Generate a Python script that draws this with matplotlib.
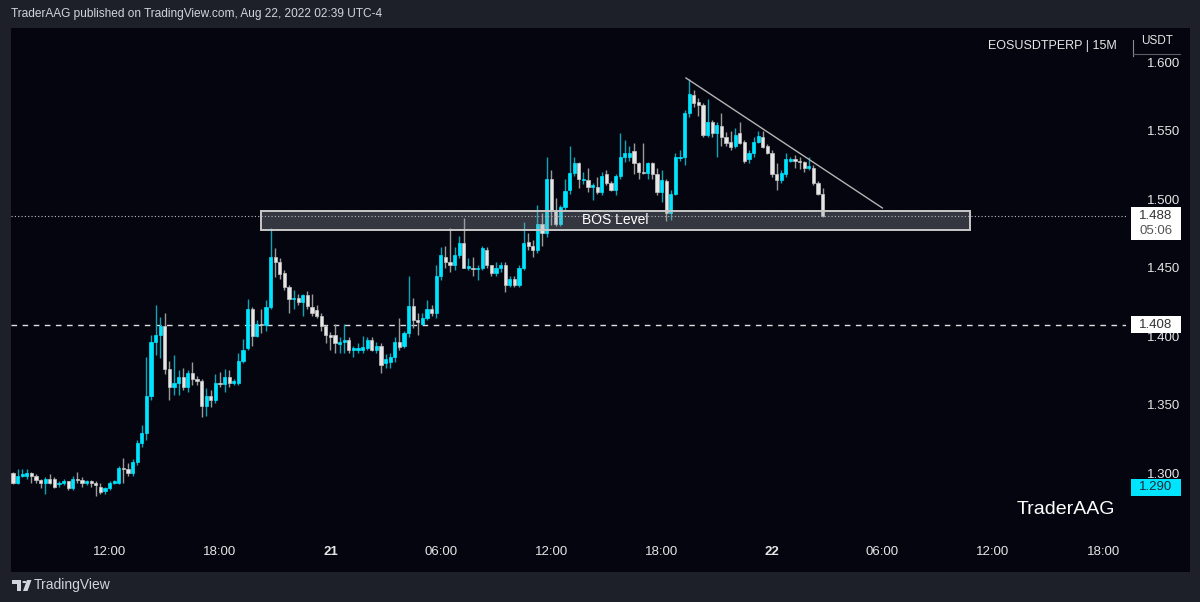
import matplotlib

matplotlib.use("Agg")

import matplotlib.pyplot as plt
from matplotlib.patches import Rectangle, Circle, Polygon

plt.rcParams["font.family"] = ["Liberation Sans", "DejaVu Sans"]

# EOSUSDTPERP 15m candles, Aug 20 06:45 -> Aug 22 02:30
opens = [
    1.300, 1.293, 1.298, 1.298, 1.300, 1.298, 1.295, 1.293, 1.296, 1.296,
    1.292, 1.293, 1.294, 1.289, 1.296, 1.295, 1.293, 1.294, 1.293, 1.290,
    1.287, 1.289, 1.293, 1.293, 1.304, 1.303, 1.300, 1.308, 1.322, 1.329,
    1.356, 1.396, 1.401, 1.407, 1.376, 1.363, 1.366, 1.370, 1.363, 1.373,
    1.369, 1.367, 1.349, 1.356, 1.353, 1.366, 1.365, 1.370, 1.366, 1.366,
    1.382, 1.391, 1.420, 1.400, 1.409, 1.408, 1.421, 1.458, 1.454, 1.446,
    1.436, 1.427, 1.428, 1.425, 1.430, 1.421, 1.419, 1.415, 1.407, 1.401,
    1.401, 1.394, 1.396, 1.397, 1.390, 1.390, 1.390, 1.391, 1.397, 1.390,
    1.393, 1.380, 1.381, 1.385, 1.396, 1.393, 1.402, 1.422, 1.412, 1.409,
    1.413, 1.420, 1.417, 1.444, 1.458, 1.454, 1.452, 1.459, 1.468, 1.450,
    1.450, 1.449, 1.450, 1.463, 1.452, 1.446, 1.450, 1.452, 1.437, 1.442,
    1.437, 1.450, 1.469, 1.466, 1.463, 1.482, 1.475, 1.515, 1.492, 1.482,
    1.494, 1.507, 1.519, 1.526, 1.514, 1.514, 1.509, 1.509, 1.505, 1.518,
    1.512, 1.507, 1.517, 1.531, 1.531, 1.535, 1.526, 1.520, 1.519, 1.526,
    1.518, 1.505, 1.513, 1.490, 1.504, 1.530, 1.531, 1.563, 1.576, 1.571,
    1.569, 1.547, 1.556, 1.548, 1.553, 1.545, 1.542, 1.539, 1.548, 1.542,
    1.529, 1.534, 1.542, 1.545, 1.539, 1.534, 1.518, 1.514, 1.518, 1.528,
    1.529, 1.528, 1.527, 1.523, 1.523, 1.512, 1.504,
]
closes = [
    1.293, 1.298, 1.299, 1.300, 1.298, 1.295, 1.293, 1.296, 1.293, 1.290,
    1.293, 1.294, 1.289, 1.296, 1.295, 1.293, 1.294, 1.293, 1.291, 1.286,
    1.289, 1.293, 1.294, 1.304, 1.303, 1.300, 1.308, 1.322, 1.329, 1.356,
    1.396, 1.401, 1.407, 1.376, 1.363, 1.366, 1.370, 1.363, 1.373, 1.369,
    1.367, 1.349, 1.356, 1.353, 1.366, 1.365, 1.370, 1.366, 1.367, 1.382,
    1.390, 1.420, 1.400, 1.409, 1.408, 1.421, 1.458, 1.454, 1.445, 1.436,
    1.427, 1.428, 1.425, 1.430, 1.422, 1.417, 1.415, 1.407, 1.401, 1.399,
    1.395, 1.396, 1.397, 1.390, 1.391, 1.391, 1.392, 1.397, 1.390, 1.393,
    1.379, 1.383, 1.385, 1.396, 1.392, 1.402, 1.422, 1.412, 1.410, 1.413,
    1.420, 1.417, 1.444, 1.459, 1.454, 1.452, 1.459, 1.468, 1.450, 1.451,
    1.449, 1.450, 1.464, 1.452, 1.446, 1.450, 1.452, 1.437, 1.442, 1.437,
    1.450, 1.468, 1.466, 1.463, 1.482, 1.475, 1.515, 1.492, 1.482, 1.494,
    1.506, 1.519, 1.526, 1.515, 1.515, 1.509, 1.510, 1.505, 1.517, 1.512,
    1.507, 1.517, 1.531, 1.534, 1.534, 1.526, 1.520, 1.519, 1.526, 1.518,
    1.505, 1.514, 1.490, 1.504, 1.531, 1.531, 1.563, 1.577, 1.570, 1.569,
    1.547, 1.556, 1.548, 1.554, 1.545, 1.541, 1.538, 1.547, 1.541, 1.528,
    1.534, 1.542, 1.546, 1.538, 1.534, 1.518, 1.514, 1.519, 1.529, 1.529,
    1.528, 1.527, 1.523, 1.524, 1.512, 1.504, 1.488,
]
highs = [
    1.301, 1.303, 1.303, 1.303, 1.301, 1.299, 1.296, 1.297, 1.299, 1.297,
    1.294, 1.296, 1.294, 1.298, 1.301, 1.297, 1.295, 1.295, 1.294, 1.293,
    1.290, 1.294, 1.295, 1.305, 1.311, 1.307, 1.310, 1.324, 1.335, 1.385,
    1.401, 1.423, 1.414, 1.417, 1.382, 1.386, 1.375, 1.377, 1.375, 1.381,
    1.371, 1.369, 1.362, 1.361, 1.372, 1.374, 1.376, 1.375, 1.369, 1.388,
    1.398, 1.427, 1.421, 1.412, 1.420, 1.426, 1.479, 1.464, 1.457, 1.448,
    1.437, 1.434, 1.431, 1.431, 1.433, 1.431, 1.423, 1.417, 1.408, 1.403,
    1.409, 1.399, 1.409, 1.399, 1.393, 1.395, 1.400, 1.399, 1.399, 1.396,
    1.395, 1.387, 1.388, 1.399, 1.413, 1.404, 1.444, 1.428, 1.417, 1.417,
    1.426, 1.423, 1.452, 1.465, 1.466, 1.479, 1.465, 1.473, 1.486, 1.457,
    1.458, 1.452, 1.466, 1.465, 1.452, 1.454, 1.454, 1.454, 1.444, 1.444,
    1.452, 1.483, 1.475, 1.470, 1.496, 1.490, 1.531, 1.521, 1.501, 1.496,
    1.515, 1.539, 1.531, 1.527, 1.520, 1.523, 1.512, 1.516, 1.520, 1.521,
    1.513, 1.518, 1.548, 1.543, 1.539, 1.541, 1.527, 1.541, 1.527, 1.527,
    1.523, 1.521, 1.515, 1.507, 1.534, 1.536, 1.565, 1.588, 1.580, 1.574,
    1.570, 1.573, 1.558, 1.556, 1.563, 1.549, 1.550, 1.552, 1.556, 1.543,
    1.536, 1.545, 1.550, 1.550, 1.540, 1.536, 1.526, 1.521, 1.534, 1.531,
    1.532, 1.531, 1.528, 1.531, 1.525, 1.513, 1.508,
]
lows = [
    1.292, 1.292, 1.297, 1.296, 1.293, 1.293, 1.289, 1.285, 1.292, 1.289,
    1.290, 1.291, 1.288, 1.288, 1.293, 1.290, 1.291, 1.290, 1.283, 1.285,
    1.285, 1.288, 1.292, 1.292, 1.293, 1.298, 1.298, 1.306, 1.319, 1.324,
    1.353, 1.386, 1.384, 1.372, 1.353, 1.357, 1.357, 1.361, 1.359, 1.364,
    1.364, 1.341, 1.342, 1.348, 1.351, 1.363, 1.359, 1.363, 1.364, 1.364,
    1.380, 1.390, 1.393, 1.399, 1.402, 1.404, 1.420, 1.443, 1.442, 1.434,
    1.417, 1.420, 1.423, 1.415, 1.420, 1.415, 1.413, 1.404, 1.395, 1.390,
    1.388, 1.388, 1.388, 1.388, 1.385, 1.388, 1.388, 1.390, 1.389, 1.388,
    1.373, 1.377, 1.377, 1.381, 1.390, 1.391, 1.399, 1.406, 1.401, 1.408,
    1.412, 1.415, 1.413, 1.441, 1.450, 1.447, 1.448, 1.457, 1.450, 1.448,
    1.444, 1.441, 1.448, 1.450, 1.444, 1.444, 1.447, 1.432, 1.436, 1.436,
    1.436, 1.448, 1.463, 1.458, 1.461, 1.466, 1.472, 1.481, 1.480, 1.480,
    1.492, 1.504, 1.517, 1.508, 1.511, 1.505, 1.499, 1.504, 1.503, 1.510,
    1.506, 1.503, 1.515, 1.527, 1.528, 1.518, 1.515, 1.518, 1.515, 1.515,
    1.503, 1.498, 1.484, 1.485, 1.503, 1.528, 1.525, 1.560, 1.567, 1.561,
    1.545, 1.545, 1.545, 1.531, 1.539, 1.539, 1.536, 1.537, 1.540, 1.526,
    1.526, 1.531, 1.541, 1.537, 1.533, 1.516, 1.507, 1.512, 1.516, 1.527,
    1.523, 1.522, 1.520, 1.521, 1.510, 1.503, 1.487,
]

time_labels = ["12:00", "18:00", "21", "06:00", "12:00", "18:00", "22", "06:00", "12:00", "18:00"]
first_tick = 21          # candle index of Aug 20 12:00
bars_per_tick = 24       # 6 hours of 15m candles
price_ticks = [1.300, 1.350, 1.400, 1.450, 1.500, 1.550, 1.600]

bos_start, bos_end = 54, 208          # candle indices of the BOS zone
bos_low, bos_high = 1.4777, 1.4916
bos_price = 1.408                     # dashed horizontal level
last_price = 1.488
countdown = "05:06"
low_marker = 1.290
trend_x = [146.3, 189.0]
trend_y = [1.5884, 1.4935]

W, H = 1200, 602
OUTER = "#1e2029"
PANE = "#04050f"
TEXT = "#d1d4dc"
BULL = "#00e5ff"
BULL_WICK = "#0fa3b8"
BEAR = "#e6e6e6"
BEAR_WICK = "#9a9a9a"


def fx(x):
    return x / W


def fy(y):
    return 1 - y / H


fig = plt.figure(figsize=(W / 100, H / 100), dpi=100, facecolor=OUTER)
fig.add_artist(Rectangle((fx(11), fy(572)), fx(1179), 544 / H, transform=fig.transFigure,
                         facecolor=PANE, edgecolor="none", zorder=0))

ax = fig.add_axes([fx(11), fy(538), fx(1115), 510 / H])
ax.set_facecolor(PANE)
for s in ax.spines.values():
    s.set_visible(False)

n = len(closes)
xs = list(range(n))
up = [c >= o for o, c in zip(opens, closes)]

ax.vlines(xs, lows, highs, colors=[BULL_WICK if u else BEAR_WICK for u in up], linewidth=1.0, zorder=2)
body_bottom = [min(o, c) for o, c in zip(opens, closes)]
body_height = [max(abs(c - o), 0.0008) for o, c in zip(opens, closes)]
ax.bar(xs, body_height, bottom=body_bottom, width=0.7,
       color=[BULL if u else BEAR for u in up],
       edgecolor=[BULL if u else "#c4c4c4" for u in up], linewidth=0.5, zorder=3)

ax.set_xlim((11 - 13) / 4.6, (1126 - 13) / 4.6)
ax.set_ylim(1.2526, 1.6249)

# levels and drawings
ax.axhline(bos_price, color="#e0e0e0", linewidth=1.0, dashes=(4, 4), zorder=1)
ax.axhline(last_price, color="#bfbfbf", linewidth=0.8, dashes=(1, 2), zorder=4)
ax.add_patch(Rectangle((bos_start, bos_low), bos_end - bos_start, bos_high - bos_low,
                       facecolor="#9ca0aa", alpha=0.32, edgecolor="none", zorder=4))
ax.add_patch(Rectangle((bos_start, bos_low), bos_end - bos_start, bos_high - bos_low,
                       facecolor="none", edgecolor="#c9c9c9", linewidth=1.4, zorder=5))
ax.text((bos_start + bos_end) / 2, (bos_low + bos_high) / 2, "BOS Level", color="white",
        fontsize=10, ha="center", va="center", zorder=6)
ax.plot(trend_x, trend_y, color="#b4b4b4", linewidth=1.0, zorder=5)

# time axis
ticks = [first_tick + bars_per_tick * k for k in range(len(time_labels))]
ax.set_xticks(ticks)
ax.set_xticklabels(time_labels)
for lab in ax.get_xticklabels():
    lab.set_fontsize(9.5)
    lab.set_color("#e6e6e6")
    if ":" not in lab.get_text():
        lab.set_fontweight("bold")
ax.tick_params(axis="x", length=0, pad=6)

# price axis
ax.yaxis.tick_right()
ax.set_yticks(price_ticks)
ax.set_yticklabels([f"{p:.3f}" for p in price_ticks])
ax.tick_params(axis="y", length=0, pad=15, labelsize=9.5, labelcolor="#e6e6e6")


def price_tag(y_top, height, face):
    fig.add_artist(Rectangle((fx(1131), fy(y_top + height)), fx(50), height / H,
                             transform=fig.transFigure, facecolor=face, edgecolor="none", zorder=9))


# last price tag (price + candle countdown), level tag and low marker
price_tag(207, 33, "white")
fig.text(fx(1156), fy(216), f"{last_price:.3f}", color="#333333", fontsize=9.5,
         ha="center", va="center", zorder=10)
fig.text(fx(1156), fy(231), countdown, color="#555555", fontsize=9.5,
         ha="center", va="center", zorder=10)
price_tag(316, 17, "white")
fig.text(fx(1156), fy(324.5), f"{bos_price:.3f}", color="#333333", fontsize=9.5,
         ha="center", va="center", zorder=10)
price_tag(479, 17, BULL)
fig.text(fx(1156), fy(487.5), f"{low_marker:.3f}", color="#1a2a33", fontsize=9.5,
         ha="center", va="center", zorder=10)

# header, legend, watermark, footer
fig.text(fx(11), fy(14), "TraderAAG published on TradingView.com, Aug 22, 2022 02:39 UTC-4",
         color=TEXT, fontsize=8.6, ha="left", va="center")
fig.text(fx(1117), fy(46), "EOSUSDTPERP | 15M", color="#e6e6e6", fontsize=9, ha="right", va="center")
fig.text(fx(1157), fy(41), "USDT", color="#e6e6e6", fontsize=8.5, ha="center", va="center")
fig.add_artist(plt.Line2D([fx(1133), fx(1133)], [fy(40), fy(56)], color="#8a8d95", linewidth=0.8))
fig.add_artist(plt.Line2D([fx(1133), fx(1180)], [fy(54), fy(54)], color="#5a5d65", linewidth=0.8))
fig.text(fx(1115), fy(510), "TraderAAG", color="white", fontsize=14, ha="right", va="center")

logo = [
    Rectangle((fx(12), fy(584)), fx(9), 4 / H),
    Rectangle((fx(17), fy(591)), fx(4), 11 / H),
    Circle((fx(24.5), fy(582)), 2.2 / W),
    Polygon([(fx(27), fy(580)), (fx(31.5), fy(580)), (fx(27.5), fy(591)), (fx(23), fy(591))]),
]
for p in logo:
    p.set_transform(fig.transFigure)
    p.set_facecolor(TEXT)
    p.set_edgecolor("none")
    fig.add_artist(p)
fig.text(fx(34), fy(585), "TradingView", color=TEXT, fontsize=10, ha="left", va="center")

fig.savefig("out.png", dpi=100, facecolor=OUTER)
